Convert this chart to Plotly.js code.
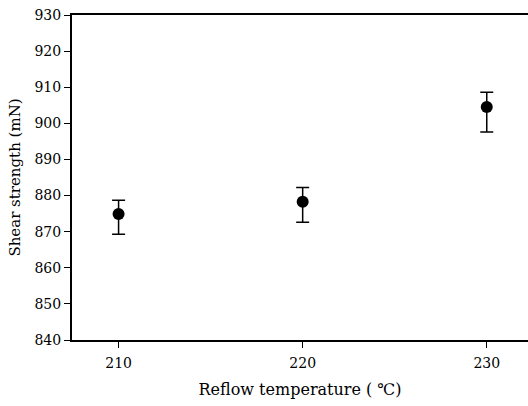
<!DOCTYPE html>
<html>
<head>
<meta charset="utf-8">
<script src="https://cdn.plot.ly/plotly-3.0.1.min.js"></script>
<style>html,body{margin:0;padding:0;background:#fff;}#chart{width:528px;height:406px;}</style>
</head>
<body>
<div id="chart"></div>
<script>
const temperatures = [210, 220, 230];
const shearStrength = [874.9, 878.3, 904.5];
const errorPlus = [3.8, 3.9, 4.1];
const errorMinus = [5.6, 5.7, 6.9];
const xTickVals = [210, 220, 230];
const yTickVals = [840, 850, 860, 870, 880, 890, 900, 910, 920, 930];

const fontFamily = '"DejaVu Serif", "Liberation Serif", serif';

const trace = {
  x: temperatures,
  y: shearStrength,
  type: 'scatter',
  mode: 'markers',
  marker: {color: '#000', size: 12},
  error_y: {
    type: 'data', symmetric: false,
    array: errorPlus, arrayminus: errorMinus,
    color: '#000', thickness: 1.5, width: 6.5
  },
  showlegend: false,
  hoverinfo: 'skip'
};

const layout = {
  width: 528, height: 406,
  margin: {l: 72, r: 0, t: 15, b: 66},
  paper_bgcolor: '#fff', plot_bgcolor: '#fff',
  font: {family: fontFamily, color: '#000', size: 14},
  xaxis: {
    range: [207.47, 232.24],
    tickvals: xTickVals,
    ticks: 'outside', ticklen: 6, tickwidth: 1, tickcolor: '#000',
    ticklabelstandoff: 3,
    showline: true, linecolor: '#000', linewidth: 2, mirror: true,
    showgrid: false, zeroline: false,
    tickfont: {family: fontFamily, size: 14, color: '#000'},
    title: {text: 'Reflow temperature ( ℃)', font: {family: fontFamily, size: 16, color: '#000'}, standoff: 14}
  },
  yaxis: {
    range: [840, 930],
    tickvals: yTickVals,
    ticks: 'outside', ticklen: 6, tickwidth: 1, tickcolor: '#000',
    showline: true, linecolor: '#000', linewidth: 2,
    showgrid: false, zeroline: false,
    tickfont: {family: fontFamily, size: 14, color: '#000'},
    title: {text: 'Shear strength (mN)', font: {family: fontFamily, size: 15, color: '#000'}, standoff: 10}
  }
};

Plotly.newPlot('chart', [trace], layout, {staticPlot: true, displayModeBar: false});
</script>
</body>
</html>
